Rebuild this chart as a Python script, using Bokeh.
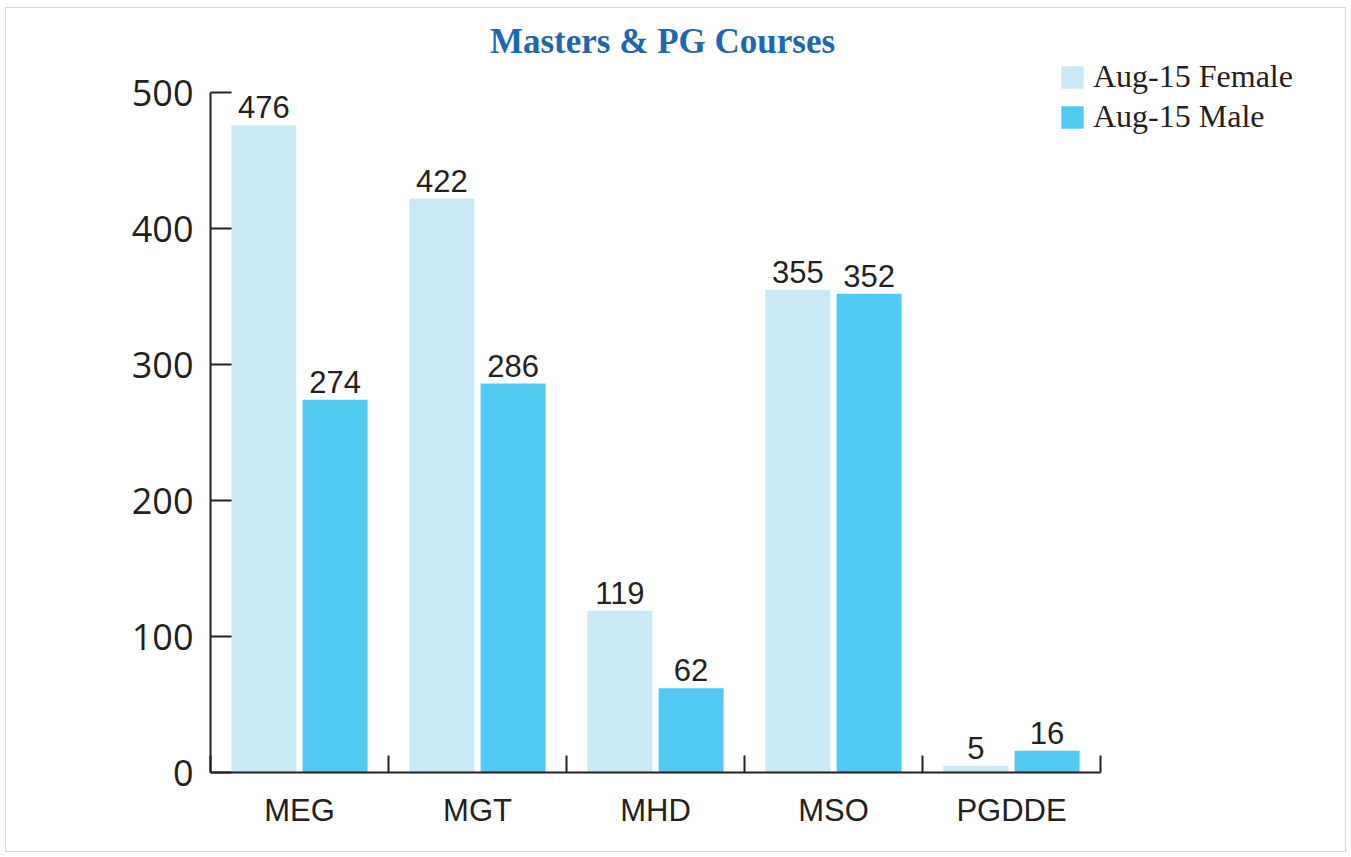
from bokeh.plotting import figure
from bokeh.models import (ColumnDataSource, FixedTicker, Range1d, LabelSet, Label,
                          Legend, LegendItem)
from bokeh.core.properties import value
from bokeh.transform import dodge
from bokeh.embed import file_html
from bokeh.resources import INLINE

# ---- data ----
categories = ["MEG", "MGT", "MHD", "MSO", "PGDDE"]
female = [476, 422, 119, 355, 5]
male = [274, 286, 62, 352, 16]
series_names = ["Aug-15 Female", "Aug-15 Male"]
y_ticks = [0, 100, 200, 300, 400, 500]
title_text = "Masters & PG Courses"

# ---- styles / layout ----
FEMALE_COLOR = "#C8E9F5"
MALE_COLOR = "#50C9F3"
INK = "#231F20"
TITLE_COLOR = "#1E67B0"

PX_X = 178.0      # pixels per category
PX_Y = 1.36       # pixels per unit of value
FRAME_W = 1120
FRAME_H = 760
MB_LEFT, MB_RIGHT, MB_TOP, MB_BOTTOM = 204, 17, 4, 81

n = len(categories)
x_centers = [i + 0.5 for i in range(n)]
boundaries = list(range(n + 1))

src = ColumnDataSource(dict(
    x=x_centers, cat=categories, female=female, male=male,
    flab=[str(v) for v in female], mlab=[str(v) for v in male],
))

p = figure(width=MB_LEFT + FRAME_W + MB_RIGHT, height=MB_TOP + FRAME_H + MB_BOTTOM,
           x_range=Range1d(0, FRAME_W / PX_X), y_range=Range1d(0, FRAME_H / PX_Y),
           output_backend="svg", toolbar_location=None,
           min_border_left=MB_LEFT, min_border_right=MB_RIGHT,
           min_border_top=MB_TOP, min_border_bottom=MB_BOTTOM)
p.styles = {"border": "1px solid #d9d9d9", "margin-left": "5px", "margin-top": "7px"}
p.outline_line_color = None
p.xgrid.visible = False
p.ygrid.visible = False

# title (placed above the value axis top)
p.add_layout(Label(x=n / 2 + 7 / PX_X, y=y_ticks[-1] + 51 / PX_Y, text=title_text,
                   text_align="center", text_baseline="alphabetic",
                   text_font="Liberation Serif", text_font_style="bold",
                   text_font_size="35px", text_color=TITLE_COLOR))

# bars
fr = p.vbar(x=dodge("x", -0.2), top="female", width=0.365, source=src,
            fill_color=FEMALE_COLOR, line_color=None)
mr = p.vbar(x=dodge("x", 0.2), top="male", width=0.365, source=src,
            fill_color=MALE_COLOR, line_color=None)

for col, lab, off in (("female", "flab", -0.2), ("male", "mlab", 0.2)):
    ls = LabelSet(x=dodge("x", off), y=col, text=lab, source=src,
                  text_align="center", text_baseline="alphabetic", y_offset=7,
                  text_font=value("Liberation Sans"), text_font_size=value("31px"),
                  text_color=INK)
    p.add_layout(ls)

# y axis
ya = p.yaxis[0]
ya.bounds = (y_ticks[0], y_ticks[-1])
ya.ticker = FixedTicker(ticks=y_ticks)
ya.major_tick_in = 21
ya.major_tick_out = 0
ya.minor_tick_in = 0
ya.minor_tick_out = 0
ya.axis_line_width = 2
ya.axis_line_color = INK
ya.major_tick_line_width = 2
ya.major_tick_line_color = INK
ya.major_label_text_font = "Open Sans"
ya.major_label_text_font_size = "36px"
ya.major_label_text_color = INK
ya.major_label_standoff = 17

# x axis
xa = p.xaxis[0]
xa.bounds = (0, n)
xa.ticker = FixedTicker(ticks=x_centers, minor_ticks=boundaries)
xa.major_label_overrides = {xc: c for xc, c in zip(x_centers, categories)}
xa.major_tick_in = 0
xa.major_tick_out = 0
xa.minor_tick_in = 17
xa.minor_tick_out = 0
xa.minor_tick_line_width = 2
xa.minor_tick_line_color = INK
xa.axis_line_width = 2
xa.axis_line_color = INK
xa.major_label_text_font = "Liberation Sans"
xa.major_label_text_font_size = "31px"
xa.major_label_text_color = INK
xa.major_label_standoff = 20

legend = Legend(items=[LegendItem(label=series_names[0], renderers=[fr]),
                       LegendItem(label=series_names[1], renderers=[mr])],
                location=(848, 637), padding=0, margin=0, spacing=3,
                glyph_width=28, glyph_height=28, label_standoff=7,
                label_text_font="Liberation Serif", label_text_font_size="32px",
                label_text_color=INK, border_line_color=None,
                background_fill_alpha=0)
p.add_layout(legend)

open("out.html", "w").write(file_html(p, INLINE))
